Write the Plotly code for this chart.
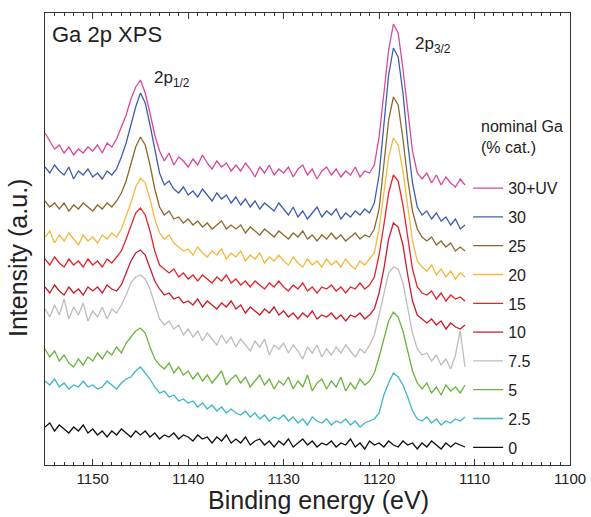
import plotly.graph_objects as go

# Binding energy grid (eV), 0.5 eV steps from 1155 to 1111
energy = [1155 - 0.5 * i for i in range(89)]

labels = ["30+UV", "30", "25", "20", "15", "10", "7.5", "5", "2.5", "0"]
colors = ["#d9499a", "#3f5fae", "#8c6a2c", "#f5b93f", "#e3262e",
          "#c81e2c", "#bdbdbd", "#6cb43e", "#3cb8c6", "#111111"]

s_30uv = [332, 324, 316, 320, 312, 318, 310, 316, 312, 318,
          314, 320, 312, 322, 318, 326, 338, 350, 366, 378,
          385, 372, 352, 330, 314, 304, 312, 300, 308, 304,
          298, 306, 300, 310, 302, 296, 304, 298, 302, 294,
          300, 294, 302, 296, 288, 298, 292, 300, 290, 296,
          292, 298, 288, 296, 300, 290, 296, 286, 294, 298,
          290, 296, 288, 294, 290, 298, 288, 294, 292, 300,
          328, 374, 415, 441, 432, 396, 352, 314, 292, 286,
          292, 282, 290, 280, 288, 282, 278, 286, 280]
s_30 = [298, 292, 300, 294, 290, 298, 286, 294, 290, 296,
        288, 292, 286, 294, 290, 296, 308, 322, 340, 358,
        372, 362, 340, 315, 292, 280, 284, 276, 272, 278,
        270, 274, 268, 276, 270, 264, 272, 266, 270, 262,
        268, 260, 266, 258, 264, 256, 262, 258, 254, 262,
        256, 250, 258, 248, 254, 246, 252, 258, 248, 254,
        250, 256, 246, 252, 248, 254, 250, 256, 252, 262,
        290, 340, 390, 417, 408, 372, 322, 282, 258, 250,
        254, 246, 252, 244, 248, 240, 246, 236, 240]
s_25 = [264, 258, 262, 256, 262, 254, 260, 256, 262, 258,
        254, 260, 256, 262, 258, 264, 272, 284, 300, 318,
        328, 320, 300, 276, 258, 250, 254, 246, 248, 242,
        246, 240, 244, 238, 242, 236, 240, 244, 236, 240,
        236, 240, 232, 238, 234, 230, 236, 232, 228, 234,
        230, 226, 232, 228, 234, 226, 230, 224, 230, 226,
        232, 226, 230, 224, 228, 232, 226, 230, 228, 236,
        256, 300, 345, 368, 360, 326, 286, 254, 236, 228,
        224, 228, 220, 224, 218, 222, 214, 218, 214]
s_20 = [228, 234, 222, 230, 224, 232, 226, 220, 230, 224,
        228, 222, 230, 226, 232, 228, 236, 248, 262, 278,
        287, 282, 266, 246, 232, 226, 230, 222, 218, 214,
        216, 210, 218, 212, 208, 214, 210, 216, 206, 212,
        208, 214, 204, 210, 206, 212, 202, 208, 204, 210,
        204, 200, 208, 202, 198, 206, 200, 204, 198, 206,
        200, 204, 198, 206, 200, 196, 204, 200, 206, 212,
        236, 270, 308, 327, 320, 294, 258, 224, 204, 198,
        194, 200, 190, 196, 188, 194, 186, 192, 188]
s_15 = [206, 200, 208, 202, 198, 206, 200, 204, 198, 206,
        200, 204, 198, 206, 202, 208, 214, 226, 240, 252,
        257, 250, 234, 214, 200, 196, 192, 196, 188, 192,
        186, 190, 184, 190, 186, 182, 188, 184, 190, 182,
        186, 180, 184, 178, 184, 180, 176, 182, 178, 184,
        178, 174, 180, 176, 182, 174, 178, 172, 178, 176,
        180, 174, 178, 172, 178, 176, 182, 176, 180, 188,
        210, 240, 272, 290, 284, 260, 226, 196, 178, 172,
        170, 174, 166, 172, 164, 170, 166, 168, 164]
s_10 = [178, 172, 180, 174, 170, 178, 172, 176, 170, 178,
        174, 178, 172, 180, 176, 174, 180, 192, 204, 212,
        215, 210, 198, 184, 176, 170, 172, 166, 168, 162,
        164, 160, 166, 158, 164, 160, 156, 162, 158, 164,
        156, 160, 152, 158, 154, 150, 156, 152, 158, 150,
        154, 148, 152, 146, 152, 148, 154, 146, 150, 148,
        152, 146, 150, 144, 150, 148, 152, 146, 150, 156,
        172, 196, 226, 242, 238, 220, 190, 164, 150, 146,
        142, 146, 140, 144, 136, 142, 138, 136, 140]
s_7_5 = [156, 148, 160, 150, 166, 146, 158, 150, 162, 144,
         154, 148, 158, 146, 156, 152, 160, 170, 182, 188,
         190, 186, 176, 160, 146, 140, 144, 136, 140, 130,
         136, 128, 134, 124, 132, 126, 120, 130, 122, 128,
         118, 126, 120, 114, 124, 118, 126, 110, 120, 116,
         122, 112, 120, 114, 106, 118, 112, 120, 108, 116,
         110, 118, 112, 120, 114, 108, 116, 112, 120, 130,
         150, 172, 192, 198, 196, 182, 158, 132, 116, 110,
         112, 104, 110, 100, 106, 96, 110, 134, 98]
s_5 = [116, 108, 114, 104, 110, 102, 98, 106, 100, 108,
       104, 112, 106, 114, 110, 118, 112, 122, 128, 134,
       137, 132, 118, 106, 100, 96, 102, 92, 98, 90,
       94, 86, 92, 84, 90, 82, 88, 94, 80, 86,
       90, 82, 88, 78, 84, 90, 80, 86, 76, 84,
       80, 88, 76, 84, 78, 90, 74, 82, 86, 76,
       84, 78, 88, 74, 82, 76, 86, 80, 84, 92,
       108, 126, 144, 153, 148, 134, 114, 94, 82, 76,
       82, 72, 78, 70, 80, 74, 78, 72, 80]
s_2_5 = [84, 80, 86, 78, 82, 76, 80, 78, 84, 78,
         80, 76, 78, 84, 80, 76, 82, 86, 88, 94,
         98, 92, 86, 78, 72, 74, 68, 70, 64, 66,
         62, 64, 58, 62, 56, 60, 54, 58, 52, 56,
         52, 50, 54, 48, 52, 46, 50, 44, 48, 46,
         50, 44, 48, 42, 46, 40, 48, 44, 42, 46,
         40, 44, 42, 46, 40, 44, 38, 42, 44, 46,
         52, 70, 82, 92, 88, 80, 68, 54, 46, 44,
         48, 42, 46, 40, 44, 42, 46, 44, 48]
s_0 = [38, 42, 34, 40, 36, 32, 38, 34, 40, 32,
       36, 30, 34, 28, 34, 30, 36, 32, 28, 34,
       30, 34, 28, 32, 26, 30, 28, 32, 26, 30,
       28, 24, 30, 26, 28, 22, 28, 24, 30, 22,
       26, 22, 28, 20, 24, 26, 20, 24, 18, 24,
       20, 26, 18, 22, 26, 20, 24, 18, 22, 20,
       24, 18, 22, 20, 26, 18, 22, 16, 24, 20,
       22, 18, 24, 20, 18, 24, 20, 22, 16, 22,
       18, 24, 20, 16, 22, 18, 22, 20, 18]

series = [s_30uv, s_30, s_25, s_20, s_15, s_10, s_7_5, s_5, s_2_5, s_0]

FONT = "Liberation Sans, Arial, sans-serif"

fig = go.Figure()
for name, col, ys in zip(labels, colors, series):
    fig.add_trace(go.Scatter(
        x=energy, y=ys, mode="lines", name=name, legendgroup=name,
        line=dict(color=col, width=1.3),
    ))

fig.update_layout(
    width=591, height=517, autosize=False,
    margin=dict(l=45, r=21, t=13, b=52),
    paper_bgcolor="white", plot_bgcolor="white",
    font=dict(family=FONT, color="#222222"),
    showlegend=True,
    legend=dict(
        x=0.806, y=0.650, xanchor="left", yanchor="top",
        bgcolor="rgba(0,0,0,0)", borderwidth=0,
        font=dict(size=16, family=FONT, color="#222222"),
        tracegroupgap=5, itemwidth=30,
    ),
    xaxis=dict(
        range=[1155, 1100], tickmode="linear", tick0=1100, dtick=10,
        ticks="inside", ticklen=6, tickwidth=1, tickcolor="#333333",
        minor=dict(dtick=1, ticks="inside", ticklen=3, tickcolor="#333333"),
        showline=True, linecolor="#333333", linewidth=1, mirror="ticks",
        showgrid=False, zeroline=False, automargin=False,
        tickfont=dict(size=15, family=FONT, color="#222222"),
    ),
    yaxis=dict(
        range=[0, 452], showticklabels=False, ticks="",
        showline=True, linecolor="#333333", linewidth=1, mirror=True,
        showgrid=False, zeroline=False, automargin=False,
    ),
    annotations=[
        dict(text="Binding energy (eV)", xref="paper", yref="paper", x=0.52, y=-0.077,
             xanchor="center", yanchor="middle", showarrow=False,
             font=dict(size=25, family=FONT, color="#222222")),
        dict(text="Intensity (a.u.)", xref="paper", yref="paper", x=-0.0514, y=0.458,
             xanchor="center", yanchor="middle", textangle=-90, showarrow=False,
             font=dict(size=25, family=FONT, color="#222222")),
        dict(text="Ga 2p XPS", xref="paper", yref="paper", x=0.01, y=0.952,
             xanchor="left", yanchor="middle", showarrow=False,
             font=dict(size=22, family=FONT, color="#222222")),
        dict(text="2p<sub>1/2</sub>", xref="x", yref="paper", x=1143.8, y=0.853,
             xanchor="left", yanchor="middle", showarrow=False,
             font=dict(size=17, family=FONT, color="#222222")),
        dict(text="2p<sub>3/2</sub>", xref="x", yref="paper", x=1116.4, y=0.93,
             xanchor="left", yanchor="middle", showarrow=False,
             font=dict(size=17, family=FONT, color="#222222")),
        dict(text="nominal Ga<br>(% cat.)", xref="paper", yref="paper", x=0.827, y=0.726,
             xanchor="left", yanchor="middle", align="left", showarrow=False,
             font=dict(size=16, family=FONT, color="#222222")),
    ],
)

fig.write_html(
    "out.html",
    config={"responsive": False, "displayModeBar": False},
    post_script="document.body.style.margin='0';document.body.style.overflow='hidden';",
)
